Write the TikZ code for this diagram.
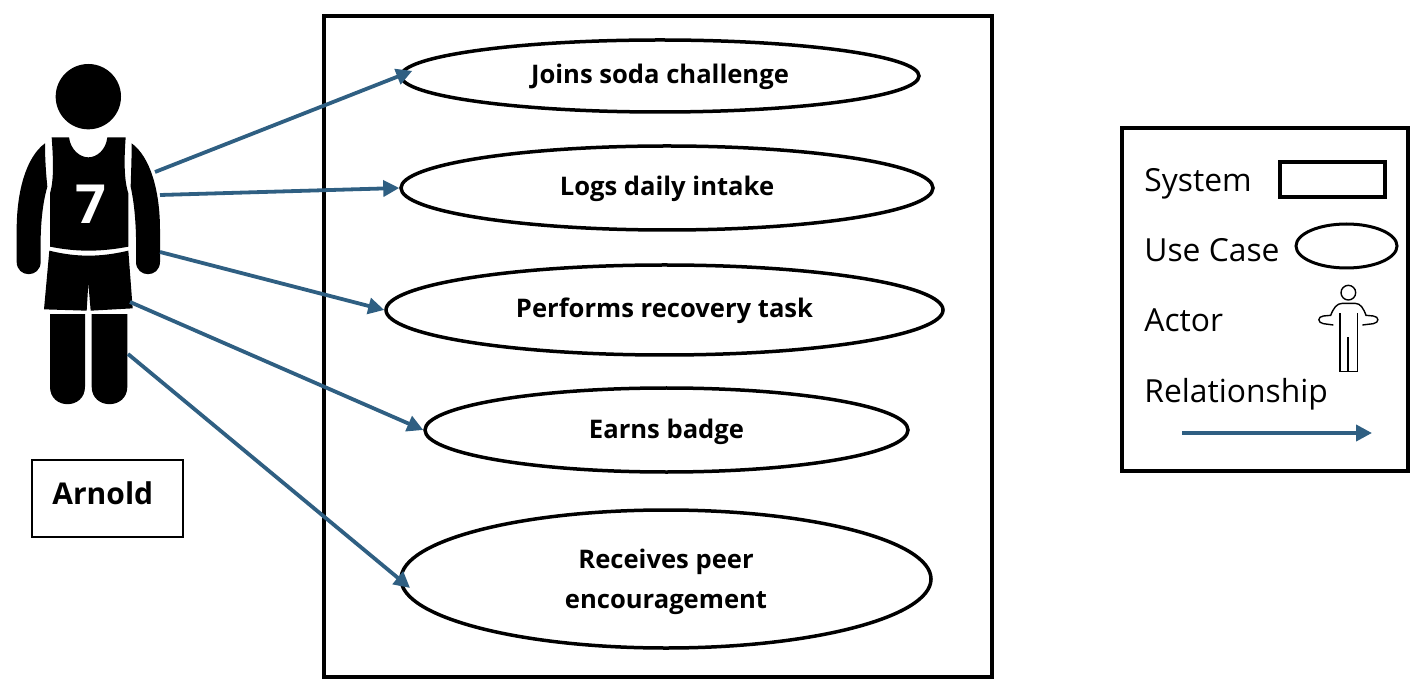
\documentclass[tikz,border=0pt]{standalone}
\usepackage{fontspec}
\setmainfont{Open Sans}
\usetikzlibrary{arrows.meta,shapes.geometric}
\definecolor{flowblue}{HTML}{2F5F82}
\tikzset{
  usecase/.style={draw=black, line width=1.75pt, ellipse, inner sep=0pt, align=center, text height=11pt, text depth=3pt, font=\fontsize{12.8}{20}\selectfont\bfseries},
  flow/.style={draw=flowblue, line width=1.9pt, -{Triangle[length=8pt,width=8pt]}},
  framebox/.style={draw=black, line width=2pt, inner sep=0pt},
  legendtext/.style={anchor=base west, inner sep=0pt, font=\fontsize{15.9}{18}\selectfont},
  iconline/.style={draw=black, line width=0.7pt}
}
\begin{document}
\begin{tikzpicture}[x=0.5pt, y=-0.5pt]
      \useasboundingbox (0,0) rectangle (1416,694);
      \node [framebox, minimum width=334pt, minimum height=330.5pt] (system) at (658,346.5) {};
      \node [usecase, minimum width=259pt, minimum height=36pt] (joins) at (660,76) {Joins soda challenge};
      \node [usecase, minimum width=266pt, minimum height=42pt] (logs) at (667,188) {Logs daily intake};
      \node [usecase, minimum width=278.5pt, minimum height=45pt] (recovery) at (664.5,310) {Performs recovery task};
      \node [usecase, minimum width=241.5pt, minimum height=42pt] (badge) at (666.5,430) {Earns badge};
      \node [usecase, text height=32pt, minimum width=265pt, minimum height=69pt] (peer) at (666,579) {Receives peer\\encouragement};
      \node [draw=black, line width=0.75pt, minimum width=75.5pt, minimum height=38.5pt, inner sep=0pt] (name) at (107.5,498.5) {};
      \node [anchor=west, inner sep=0pt, font=\fontsize{15}{18}\selectfont\bfseries] (arnold) at (52,493) {Arnold};
      % player
      \begin{scope}[shift={(0,50)}, x=0.16667pt, y=-0.16667pt]
        \fill [black] (265,140) circle [radius=98];
        \fill [black] (155,262) -- (207,262) .. controls (212,300) and (240,322) .. (265,322) .. controls (290,322) and (318,300) .. (322,262) -- (377,262) .. controls (372,330) and (372,390) .. (385,430) -- (385,590) .. controls (300,606) and (230,606) .. (150,590) -- (150,430) .. controls (162,390) and (160,330) .. (155,262) -- cycle;
        \fill [black] (135,280) .. controls (80,320) and (50,420) .. (50,540) -- (50,635) .. controls (50,685) and (122,685) .. (122,635) .. controls (120,540) and (125,470) .. (142,410) .. controls (138,370) and (135,330) .. (135,280) -- cycle;
        \fill [black] (395,280) .. controls (450,320) and (480,420) .. (480,540) -- (480,635) .. controls (480,685) and (408,685) .. (408,635) .. controls (410,540) and (405,470) .. (392,410) .. controls (393,370) and (395,330) .. (395,280) -- cycle;
        \fill [black] (148,602) .. controls (230,622) and (300,622) .. (385,602) -- (398,775) -- (272,782) -- (265,700) -- (260,782) -- (132,778) -- cycle;
        \fill [black] (150,792) -- (255,792) -- (255,1010) .. controls (255,1080) and (150,1080) .. (150,1010) -- cycle;
        \fill [black] (275,792) -- (382,792) -- (382,1010) .. controls (382,1080) and (275,1080) .. (275,1010) -- cycle;
        \node [text=white, inner sep=0pt, font=\fontsize{27}{27}\selectfont\bfseries] (number) at (272,463) {7};
      \end{scope}
      \coordinate (p1) at (155,172);
      \coordinate (p2) at (160,195);
      \coordinate (p3) at (160,252);
      \coordinate (p4) at (130,302);
      \coordinate (p5) at (128,354);
      \draw [flow, shorten >=-7pt] (p1) -- (joins.west);
      \draw [flow] (p2) -- (logs.west);
      \draw [flow] (p3) -- (recovery.west);
      \draw [flow] (p4) -- (badge.west);
      \draw [flow, shorten >=-7pt] (p5) -- (peer.west);
      % legend
      \node [framebox, minimum width=143pt, minimum height=171.5pt] (legend) at (1265,299.5) {};
      \node [legendtext] (lsystem) at (1144,192) {System};
      \node [legendtext] (lcase) at (1144,262) {Use Case};
      \node [legendtext] (lactor) at (1144,332) {Actor};
      \node [legendtext] (lrel) at (1144,402) {Relationship};
      \node [draw=black, line width=1.7pt, minimum width=52.5pt, minimum height=17.5pt, inner sep=0pt] (isystem) at (1332.5,179.5) {};
      \node [draw=black, line width=1.5pt, ellipse, minimum width=50.5pt, minimum height=22pt, inner sep=0pt] (icase) at (1346.5,246) {};
      \begin{scope}[shift={(1110,120)}, x=0.16667pt, y=-0.16667pt]
        \draw [iconline] (715,518) circle [radius=22];
        \draw [iconline] (690,580) -- (690,755) -- (742,755) -- (742,580);
        \draw [iconline] (714,652) -- (714,755);
        \draw [iconline] (670,615) -- (640,611) .. controls (622,608) and (622,590) .. (640,588) -- (662,586) .. controls (670,565) and (680,550) .. (697,550) -- (735,550) .. controls (752,550) and (760,565) .. (768,586) -- (790,588) .. controls (808,590) and (808,608) .. (790,611) -- (757,615);
      \end{scope}
      \coordinate (lfrom) at (1182,433);
      \coordinate (lto) at (1372,433);
      \draw [flow] (lfrom) -- (lto);
    \end{tikzpicture}
\end{document}
